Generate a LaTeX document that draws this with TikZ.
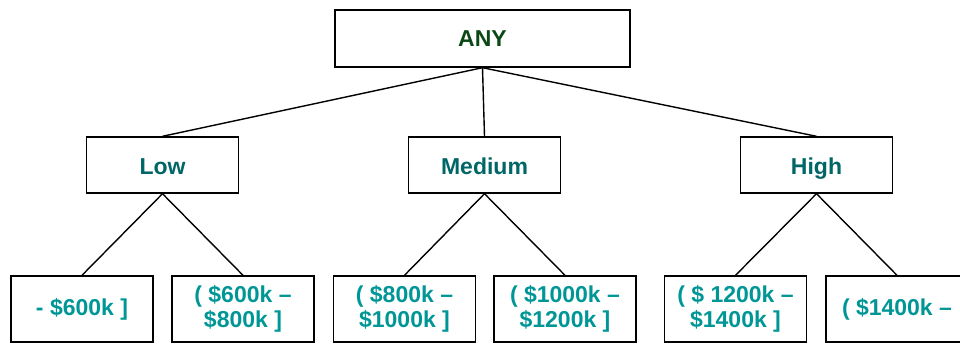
\documentclass[tikz,border=0pt]{standalone}
\usepackage{fontspec}
\setmainfont{Liberation Sans}
\definecolor{anygreen}{RGB}{12,72,22}
\definecolor{levelteal}{RGB}{0,102,102}
\definecolor{rangeteal}{RGB}{0,150,150}
\begin{document}
\begin{tikzpicture}[x=1pt,y=-1pt]

    \tikzset{
      box/.style={
        draw,
        line width=1.4pt,
        inner sep=0pt,
        align=center,
        font=\fontsize{23}{25}\selectfont\bfseries,
      },
      rootbox/.style={box, minimum width=295pt, minimum height=57pt, text=anygreen},
      levelbox/.style={box, minimum width=152pt, minimum height=56pt, text=levelteal,
        text height=18pt, text depth=0pt},
      rangebox/.style={box, minimum width=142pt, minimum height=66pt, text=rangeteal},
      branch/.style={line width=1.4pt},
    }
    \useasboundingbox (0,0) rectangle (960,343);
    \clip (0,0) rectangle (960,343);

	\node[rootbox] (any) at (482.5,38.5) {ANY};

	\node[levelbox] (low) at (162.5,165) {Low};
	\node[levelbox] (medium) at (484.5,165) {Medium};
	\node[levelbox] (high) at (816.5,165) {High};

	\node[rangebox] (r1) at (82,309) {- \$600k ]};
	\node[rangebox] (r2) at (243,309) {( \$600k –\\\$800k ]};
	\node[rangebox] (r3) at (404.5,309) {( \$800k –\\\$1000k ]};
	\node[rangebox] (r4) at (565,309) {( \$1000k –\\\$1200k ]};
	\node[rangebox] (r5) at (735.5,309) {( \$ 1200k –\\\$1400k ]};
	\node[rangebox] (r6) at (897,309) {( \$1400k –};

	\draw[branch] (any.south) -- (low.north);
	\draw[branch] (any.south) -- (medium.north);
	\draw[branch] (any.south) -- (high.north);

	\draw[branch] (low.south) -- (r1.north);
	\draw[branch] (low.south) -- (r2.north);
	\draw[branch] (medium.south) -- (r3.north);
	\draw[branch] (medium.south) -- (r4.north);
	\draw[branch] (high.south) -- (r5.north);
	\draw[branch] (high.south) -- (r6.north);

\end{tikzpicture}
\end{document}
